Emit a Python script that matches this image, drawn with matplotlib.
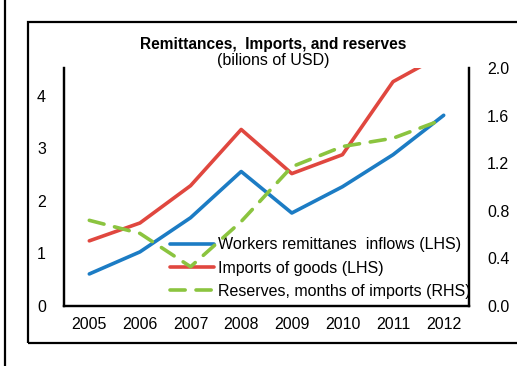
import matplotlib.pyplot as plt
from matplotlib.lines import Line2D
from matplotlib.patches import Rectangle

plt.rcParams["font.family"] = ["Liberation Sans", "DejaVu Sans"]

years = ["2005", "2006", "2007", "2008", "2009", "2010", "2011", "2012"]
remittances = [0.61, 1.03, 1.68, 2.56, 1.77, 2.27, 2.88, 3.63]
imports = [1.24, 1.58, 2.29, 3.36, 2.52, 2.88, 4.27, 4.80]
reserves = [0.72, 0.61, 0.33, 0.71, 1.17, 1.34, 1.41, 1.57]

fig = plt.figure(figsize=(5.17, 3.66), dpi=100)
W, H = 517, 366

# axes placed in pixel terms
left, right, top, bottom = 64, 469, 68, 306
ax1 = fig.add_axes([left / W, 1 - bottom / H, (right - left) / W, (bottom - top) / H])
ax2 = ax1.twinx()

x = range(len(years))
l1, = ax1.plot(x, remittances, color="#1C7CC4", lw=2.6, solid_capstyle="round")
l2, = ax1.plot(x, imports, color="#E0473F", lw=2.6, solid_capstyle="round")
l3, = ax2.plot(x, reserves, color="#8BC43F", lw=2.6, dashes=(4.2, 3.0),
               dash_capstyle="round")

ax1.set_xlim(-0.5, 7.5)
ax1.set_ylim(0, 4.53)
ax2.set_ylim(0, 2.0)
ax1.set_xticks(list(x))
ax1.set_xticklabels(years)
ax1.set_yticks([0, 1, 2, 3, 4])
ax2.set_yticks([0.0, 0.4, 0.8, 1.2, 1.6, 2.0])
ax2.set_yticklabels(["0.0", "0.4", "0.8", "1.2", "1.6", "2.0"])

for ax in (ax1, ax2):
    ax.spines["top"].set_visible(False)
    for s in ("left", "right", "bottom"):
        ax.spines[s].set_linewidth(1.6)
    ax.tick_params(length=0, labelsize=11.5)
ax1.tick_params(axis="y", pad=13)
ax1.tick_params(axis="x", pad=8)
ax2.tick_params(axis="y", pad=13)

leg = ax1.legend([l1, l2, l3],
                 ["Workers remittanes  inflows (LHS)", "Imports of goods (LHS)",
                  "Reserves, months of imports (RHS)"],
                 loc="lower left", bbox_to_anchor=(0.245, 0.003), frameon=False,
                 fontsize=11.5, handlelength=2.8, handletextpad=0.2,
                 labelspacing=0.52, borderaxespad=0)
leg.set_zorder(5)

fig.text(273 / W, 1 - 44 / H, "Remittances,  Imports, and reserves",
         ha="center", va="center", fontsize=11.2, fontweight="bold")
fig.text(273 / W, 1 - 61 / H, "(bilions of USD)", ha="center", va="center",
         fontsize=11.5)

# outer frame and left rule
fig.patches.append(Rectangle((28 / W, 1 - 343 / H), 600 / W, (343 - 22) / H,
                             transform=fig.transFigure, fill=False,
                             edgecolor="black", lw=1.6))
fig.lines.append(Line2D([5 / W, 5 / W], [0, 1], transform=fig.transFigure,
                        color="black", lw=1.6))

plt.savefig("out.png", dpi=100)
